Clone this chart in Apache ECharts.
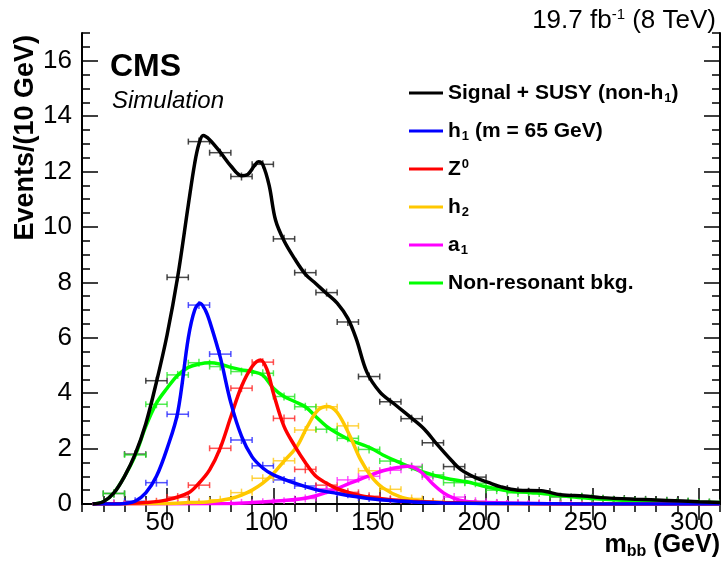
<!DOCTYPE html>
<html>
<head>
<meta charset="utf-8">
<script src="https://cdn.jsdelivr.net/npm/echarts@6/dist/echarts.min.js"></script>
<style>
html, body { margin: 0; padding: 0; background: #fff; }
#main { width: 723px; height: 566px; }
</style>
</head>
<body>
<div id="main"></div>
<script>
// fitted curves, m_bb (GeV) vs events
var sumX = [15, 20, 25, 30, 35, 40, 45, 50, 55, 60, 63, 65, 67, 70, 75, 80, 85, 88, 91, 93, 95, 98, 101, 105, 110, 115, 120, 125, 130, 135, 139, 144, 150, 157, 165, 171, 177, 184, 188, 195, 201, 207, 215, 226, 235, 246, 254, 270, 285, 300, 310];
var sumY = [0, 0.08, 0.4, 1.0, 1.8, 2.9, 4.4, 6.1, 8.2, 10.8, 12.3, 13.0, 13.3, 13.15, 12.7, 12.2, 11.85, 11.9, 12.2, 12.35, 12.25, 11.5, 10.25, 9.5, 8.85, 8.3, 7.95, 7.6, 7.25, 6.7, 5.95, 4.75, 4.05, 3.6, 3.1, 2.7, 2.15, 1.55, 1.25, 0.95, 0.78, 0.62, 0.5, 0.48, 0.33, 0.29, 0.23, 0.17, 0.13, 0.08, 0.05];

var h1X = [15, 25, 30, 35, 40, 45, 50, 55, 60, 63, 65.5, 68, 70, 75, 80, 85, 90, 95, 100, 110, 120, 130, 140, 150, 160, 170, 180, 200, 230, 260, 310];
var h1Y = [0, 0, 0.02, 0.1, 0.4, 1.0, 2.0, 3.3, 6.0, 7.0, 7.25, 7.0, 6.6, 5.3, 3.65, 2.45, 1.7, 1.3, 1.05, 0.75, 0.52, 0.38, 0.25, 0.15, 0.1, 0.06, 0.04, 0.02, 0.01, 0, 0];

var zX = [15, 30, 40, 50, 60, 65, 70, 75, 80, 85, 90, 94, 97, 100, 105, 110, 115, 120, 125, 130, 140, 150, 160, 170, 180, 200, 240, 310];
var zY = [0, 0.02, 0.05, 0.15, 0.4, 0.75, 1.23, 2.02, 3.15, 4.24, 4.96, 5.2, 4.85, 4.0, 2.8, 2.1, 1.5, 1.0, 0.75, 0.55, 0.32, 0.2, 0.12, 0.08, 0.05, 0.02, 0, 0];

var h2X = [15, 50, 60, 70, 80, 85, 90, 95, 100, 105, 111, 116, 121, 125.5, 130, 136, 141, 146, 151.5, 160, 170, 180, 200, 310];
var h2Y = [0, 0.02, 0.05, 0.08, 0.2, 0.32, 0.5, 0.75, 1.1, 1.55, 2.07, 2.8, 3.39, 3.52, 3.3, 2.45, 1.6, 1.0, 0.58, 0.25, 0.1, 0.05, 0.02, 0];

var a1X = [15, 80, 90, 100, 112.5, 120, 128, 136, 144, 151.5, 159.5, 163, 166, 170, 175, 180, 185, 190, 200, 230, 310];
var a1Y = [0, 0.02, 0.05, 0.1, 0.18, 0.3, 0.5, 0.75, 0.99, 1.2, 1.33, 1.36, 1.32, 1.12, 0.72, 0.4, 0.2, 0.1, 0.05, 0.01, 0];

var bgX = [15, 20, 25, 30, 35, 40, 45, 50, 55, 60, 65, 70, 75, 80, 85, 90, 95, 100, 105, 110, 115, 120, 125, 130, 136, 146, 151.5, 159.5, 170, 181, 191, 200, 210, 221, 230, 240, 250, 260, 270, 280, 290, 300, 310];
var bgY = [0, 0.08, 0.4, 1.0, 1.75, 2.8, 3.64, 4.18, 4.65, 4.93, 5.05, 5.1, 5.05, 4.93, 4.84, 4.78, 4.65, 4.18, 3.88, 3.7, 3.51, 3.15, 2.8, 2.55, 2.31, 2.01, 1.77, 1.49, 1.17, 0.93, 0.8, 0.62, 0.48, 0.41, 0.35, 0.26, 0.2, 0.15, 0.12, 0.1, 0.08, 0.06, 0.05];

// simulated points, 10 GeV bins
var binWidth = 10;
var binX = [25, 35, 45, 55, 65, 75, 85, 95, 105, 115, 125, 135, 145, 155, 165, 175, 185, 195, 205, 215, 225, 235, 245, 255, 265, 275, 285, 295, 305];
var sumPts = [0.38, 1.8, 4.45, 8.18, 13.08, 12.68, 11.82, 12.26, 9.57, 8.35, 7.63, 6.57, 4.6, 3.69, 3.08, 2.21, 1.35, 0.97, 0.58, 0.48, 0.47, 0.26, 0.26, 0.19, 0.18, 0.15, 0.12, 0.08, 0.05];
var h1Pts = [0.02, 0.1, 0.77, 3.24, 7.18, 5.41, 2.31, 1.38, 0.87, 0.65, 0.5, 0.35, 0.22, 0.14, 0.09, 0.06, 0.04, 0.03, 0.02, 0.02, 0.01, 0.01, 0.01, 0, 0, 0, 0, 0, 0];
var zPts = [0.01, 0.03, 0.08, 0.25, 0.68, 2.01, 4.18, 5.12, 3.09, 1.25, 0.68, 0.42, 0.28, 0.17, 0.1, 0.07, 0.05, 0.03, 0.02, 0.01, 0.01, 0, 0, 0, 0, 0, 0, 0, 0];
var h2Pts = [0, 0.01, 0.02, 0.04, 0.06, 0.15, 0.41, 0.93, 1.56, 2.67, 3.51, 2.82, 1.2, 0.53, 0.2, 0.08, 0.04, 0.02, 0.01, 0, 0, 0, 0, 0, 0, 0, 0, 0, 0];
var a1Pts = [0, 0, 0, 0, 0.01, 0.02, 0.04, 0.06, 0.1, 0.2, 0.55, 0.87, 1.0, 1.22, 1.36, 0.98, 0.25, 0.1, 0.04, 0.02, 0.01, 0, 0, 0, 0, 0, 0, 0, 0];
var bgPts = [0.38, 1.77, 3.6, 4.66, 5.1, 4.96, 4.78, 4.72, 3.88, 3.51, 2.7, 2.37, 1.97, 1.55, 1.33, 1.05, 0.77, 0.75, 0.5, 0.4, 0.4, 0.26, 0.25, 0.18, 0.15, 0.12, 0.1, 0.08, 0.05];

var xMajor = [50, 100, 150, 200, 250, 300];
var yMajor = [0, 2, 4, 6, 8, 10, 12, 14, 16];

var names = ['Signal + SUSY (non-h1)', 'h1 (m = 65 GeV)', 'Z0', 'h2', 'a1', 'Non-resonant bkg.'];
var legendRich = {
    'Signal + SUSY (non-h1)': '{b|Signal + SUSY (non-h}{s|1}{b|)}',
    'h1 (m = 65 GeV)': '{b|h}{s|1}{b| (m = 65 GeV)}',
    'Z0': '{b|Z}{p|0}',
    'h2': '{b|h}{s|2}',
    'a1': '{b|a}{s|1}',
    'Non-resonant bkg.': '{b|Non-resonant bkg.}'
};

var zip = function (xs, ys) {
    return xs.map(function (x, i) { return [x, ys[i]]; });
};

var curve = function (name, color, xs, ys, z) {
    return {
        name: name,
        type: 'line',
        data: zip(xs, ys),
        smooth: 0.35,
        showSymbol: false,
        symbol: 'none',
        clip: true,
        z: z,
        color: color,
        lineStyle: { color: color, width: 3.5 },
        silent: true
    };
};

var points = function (color, ys) {
    return {
        type: 'custom',
        data: zip(binX, ys),
        clip: true,
        z: 1,
        silent: true,
        renderItem: function (params, api) {
            var x = api.value(0), y = api.value(1);
            var l = api.coord([x - binWidth / 2, y]), r = api.coord([x + binWidth / 2, y]);
            var c = api.coord([x, y]);
            var st = { stroke: color, lineWidth: 1.5 };
            return {
                type: 'group',
                children: [
                    { type: 'line', shape: { x1: l[0], y1: l[1], x2: r[0], y2: r[1] }, style: st },
                    { type: 'line', shape: { x1: l[0], y1: l[1] - 3, x2: l[0], y2: l[1] + 3 }, style: st },
                    { type: 'line', shape: { x1: r[0], y1: r[1] - 3, x2: r[0], y2: r[1] + 3 }, style: st },
                    { type: 'line', shape: { x1: c[0], y1: c[1] - 4, x2: c[0], y2: c[1] + 4 }, style: st }
                ]
            };
        }
    };
};

var font = 'Liberation Sans, Arial, sans-serif';
var axisLine = { show: true, lineStyle: { color: '#000', width: 2 } };
var hiddenLabel = { show: false };

var xAxis = [
    {
        type: 'value', min: 10, max: 310, position: 'bottom',
        axisLine: axisLine, splitLine: { show: false },
        axisTick: { inside: true, length: 16, customValues: xMajor, lineStyle: { color: '#000', width: 1.5 } },
        axisLabel: { customValues: xMajor, fontFamily: font, fontSize: 26, color: '#000', margin: 6, padding: [0, 14, 0, 0] }
    },
    {
        type: 'value', min: 10, max: 310, interval: 10, position: 'bottom',
        axisLine: { show: false }, splitLine: { show: false }, axisLabel: hiddenLabel,
        axisTick: { inside: true, length: 8, lineStyle: { color: '#000', width: 1.5 } }
    },
    {
        type: 'value', min: 10, max: 310, position: 'top',
        axisLine: axisLine, splitLine: { show: false }, axisLabel: hiddenLabel,
        axisTick: { inside: true, length: 16, customValues: xMajor, lineStyle: { color: '#000', width: 1.5 } }
    },
    {
        type: 'value', min: 10, max: 310, interval: 10, position: 'top',
        axisLine: { show: false }, splitLine: { show: false }, axisLabel: hiddenLabel,
        axisTick: { inside: true, length: 8, lineStyle: { color: '#000', width: 1.5 } }
    }
];

var yAxis = [
    {
        type: 'value', min: 0, max: 17, position: 'left',
        axisLine: axisLine, splitLine: { show: false },
        axisTick: { inside: true, length: 16, customValues: yMajor, lineStyle: { color: '#000', width: 1.5 } },
        axisLabel: { customValues: yMajor, fontFamily: font, fontSize: 26, color: '#000', margin: 10 }
    },
    {
        type: 'value', min: 0, max: 17, interval: 0.5, position: 'left',
        axisLine: { show: false }, splitLine: { show: false }, axisLabel: hiddenLabel,
        axisTick: { inside: true, length: 8, lineStyle: { color: '#000', width: 1.5 } }
    },
    {
        type: 'value', min: 0, max: 17, position: 'right',
        axisLine: axisLine, splitLine: { show: false }, axisLabel: hiddenLabel,
        axisTick: { inside: true, length: 16, customValues: yMajor, lineStyle: { color: '#000', width: 1.5 } }
    },
    {
        type: 'value', min: 0, max: 17, interval: 0.5, position: 'right',
        axisLine: { show: false }, splitLine: { show: false }, axisLabel: hiddenLabel,
        axisTick: { inside: true, length: 8, lineStyle: { color: '#000', width: 1.5 } }
    }
];

var myChart = echarts.init(document.getElementById('main'), null, { renderer: 'canvas' });
var option = {
    animation: false,
    backgroundColor: '#fff',
    grid: { left: 82, right: 3, top: 33, bottom: 62, containLabel: false },
    xAxis: xAxis,
    yAxis: yAxis,
    title: {
        text: '{n|19.7 fb}{p|-1}{n| (8 TeV)}',
        right: 2, top: 1,
        textStyle: {
            fontWeight: 'normal',
            rich: {
                n: { fontFamily: font, fontWeight: 'normal', fontSize: 26, color: '#000', lineHeight: 30 },
                p: { fontFamily: font, fontWeight: 'normal', fontSize: 15, color: '#000', lineHeight: 15, padding: [0, 0, 13, 0] }
            }
        }
    },
    legend: {
        data: names,
        orient: 'vertical',
        left: 404, top: 76,
        itemGap: 14,
        itemWidth: 34, itemHeight: 3,
        icon: 'rect',
        selectedMode: false,
        formatter: function (name) { return legendRich[name]; },
        textStyle: {
            lineHeight: 24,
            rich: {
                b: { fontFamily: font, fontWeight: 'bold', fontSize: 21, color: '#000', lineHeight: 24 },
                s: { fontFamily: font, fontWeight: 'bold', fontSize: 13, color: '#000', lineHeight: 14, padding: [10, 0, 0, 1] },
                p: { fontFamily: font, fontWeight: 'bold', fontSize: 13, color: '#000', lineHeight: 14, padding: [0, 0, 10, 1] }
            }
        }
    },
    graphic: [
        { type: 'text', x: 110, y: 67, style: { text: 'CMS', fontFamily: font, fontWeight: 'bold', fontSize: 32, fill: '#000', verticalAlign: 'middle' } },
        { type: 'text', x: 112, y: 101, style: { text: 'Simulation', fontFamily: font, fontStyle: 'italic', fontSize: 24, fill: '#000', verticalAlign: 'middle' } },
        {
            type: 'text', x: 26, y: 35, rotation: Math.PI / 2,
            style: { text: 'Events/(10 GeV)', fontFamily: font, fontWeight: 'bold', fontSize: 27, fill: '#000', align: 'right', verticalAlign: 'middle' }
        },
        {
            type: 'text', x: 720, y: 545,
            style: {
                text: '{b|m}{s|bb}{b| (GeV)}', align: 'right', verticalAlign: 'middle',
                rich: {
                    b: { fontFamily: font, fontWeight: 'bold', fontSize: 25, fill: '#000', lineHeight: 30 },
                    s: { fontFamily: font, fontWeight: 'bold', fontSize: 16, fill: '#000', lineHeight: 16, padding: [14, 0, 0, 0] }
                }
            }
        }
    ],
    series: [
        points('rgba(40,40,40,0.85)', sumPts),
        points('rgba(40,40,255,0.8)', h1Pts),
        points('rgba(255,40,40,0.8)', zPts),
        points('rgba(255,200,20,0.8)', h2Pts),
        points('rgba(255,40,255,0.8)', a1Pts),
        points('rgba(40,230,40,0.8)', bgPts),
        curve(names[5], '#00ff00', bgX, bgY, 3),
        curve(names[4], '#ff00ff', a1X, a1Y, 4),
        curve(names[3], '#ffc800', h2X, h2Y, 5),
        curve(names[2], '#ff0000', zX, zY, 6),
        curve(names[1], '#0000ff', h1X, h1Y, 7),
        curve(names[0], '#000000', sumX, sumY, 8)
    ]
};
myChart.setOption(option);
</script>
</body>
</html>
